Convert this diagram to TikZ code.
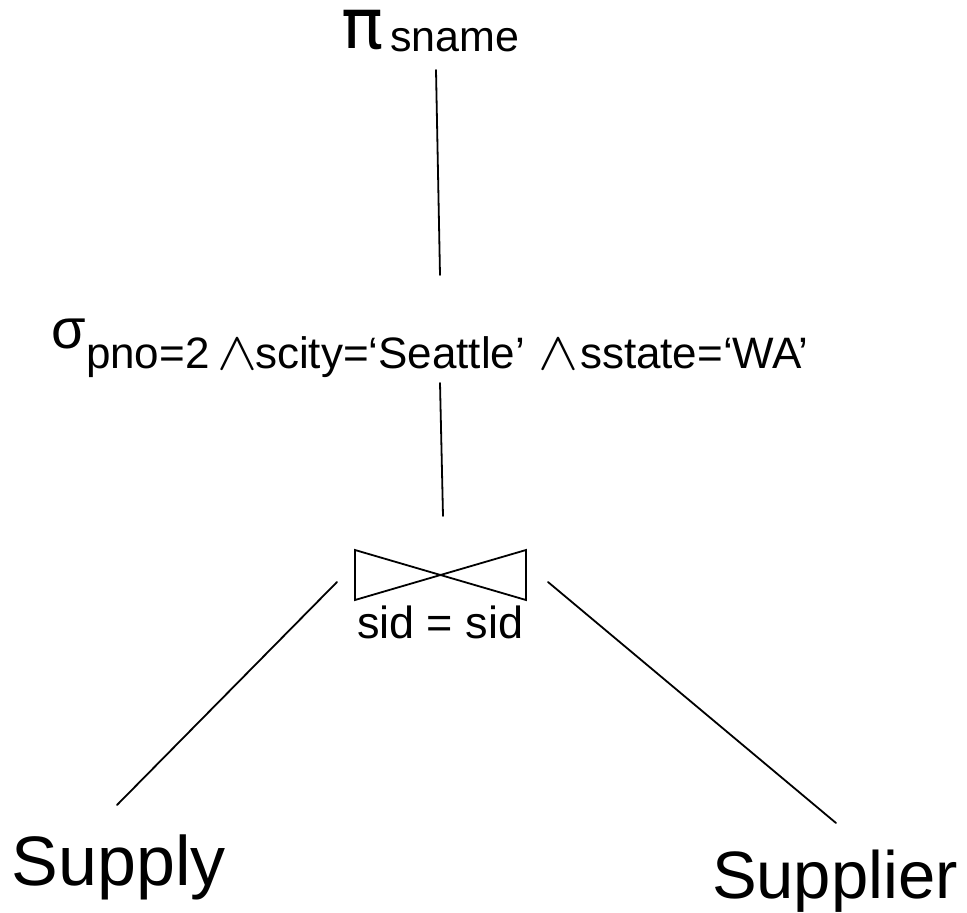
\documentclass[tikz,border=0pt]{standalone}
\usepackage{fontspec}
\setmainfont{Liberation Sans}
\newfontfamily\greekfont{DejaVu Sans}
\newcommand{\andop}{\scalebox{6}[5.4]{$\wedge$}}
\begin{document}
\begin{tikzpicture}[x=1pt,y=-1pt,
  txt/.style={anchor=base west,inner sep=0pt,outer sep=0pt},
  edge/.style={line width=1.8pt,line cap=round},
  fs/.style={font=\fontsize{#1}{#1}\selectfont}]
\useasboundingbox (0,0) rectangle (967,913);

% projection
\node[txt,text height=36pt,font=\greekfont\fontsize{70}{70}\selectfont] (pi) at (341,48) {π};
\node[txt,fs=43] (pisub) at (390,51) {sname};
\coordinate (proj-out) at (436,70);

% selection
\node[txt,fs=56] (sig) at (51,348) {σ};
\node[txt,fs=44] (c1) at (86,368) {pno=2};
\node[txt] (w1) at (217,369) {\andop};
\node[txt,fs=44] (c2) at (255,368) {scity=‘Seattle’};
\node[txt] (w2) at (538,369) {\andop};
\node[txt,fs=44] (c3) at (580,368) {sstate=‘WA’};
\coordinate (sel-in) at (440,275);
\coordinate (sel-out) at (440,383);

% join
\coordinate (join-in) at (443,516);
\coordinate (j-tl) at (355,550);
\coordinate (j-bl) at (355,600);
\coordinate (j-tr) at (526,550);
\coordinate (j-br) at (526,600);
\draw[line width=1.8pt,line join=miter] (j-tl) -- (j-br) -- (j-tr) -- (j-bl) -- cycle;
\node[txt,fs=45] (cond) at (357,638) {sid = sid};
\coordinate (join-l) at (337,582);
\coordinate (join-r) at (548,582);

% relations
\node[txt,fs=70] (supply) at (12,885) {Supply};
\node[txt,fs=67] (supplier) at (712,898) {Supplier};
\coordinate (supply-in) at (117,805);
\coordinate (supplier-in) at (836,823);

% tree edges
\draw[edge] (proj-out) -- (sel-in);
\draw[edge] (sel-out) -- (join-in);
\draw[edge] (join-l) -- (supply-in);
\draw[edge] (join-r) -- (supplier-in);
\end{tikzpicture}
\end{document}
